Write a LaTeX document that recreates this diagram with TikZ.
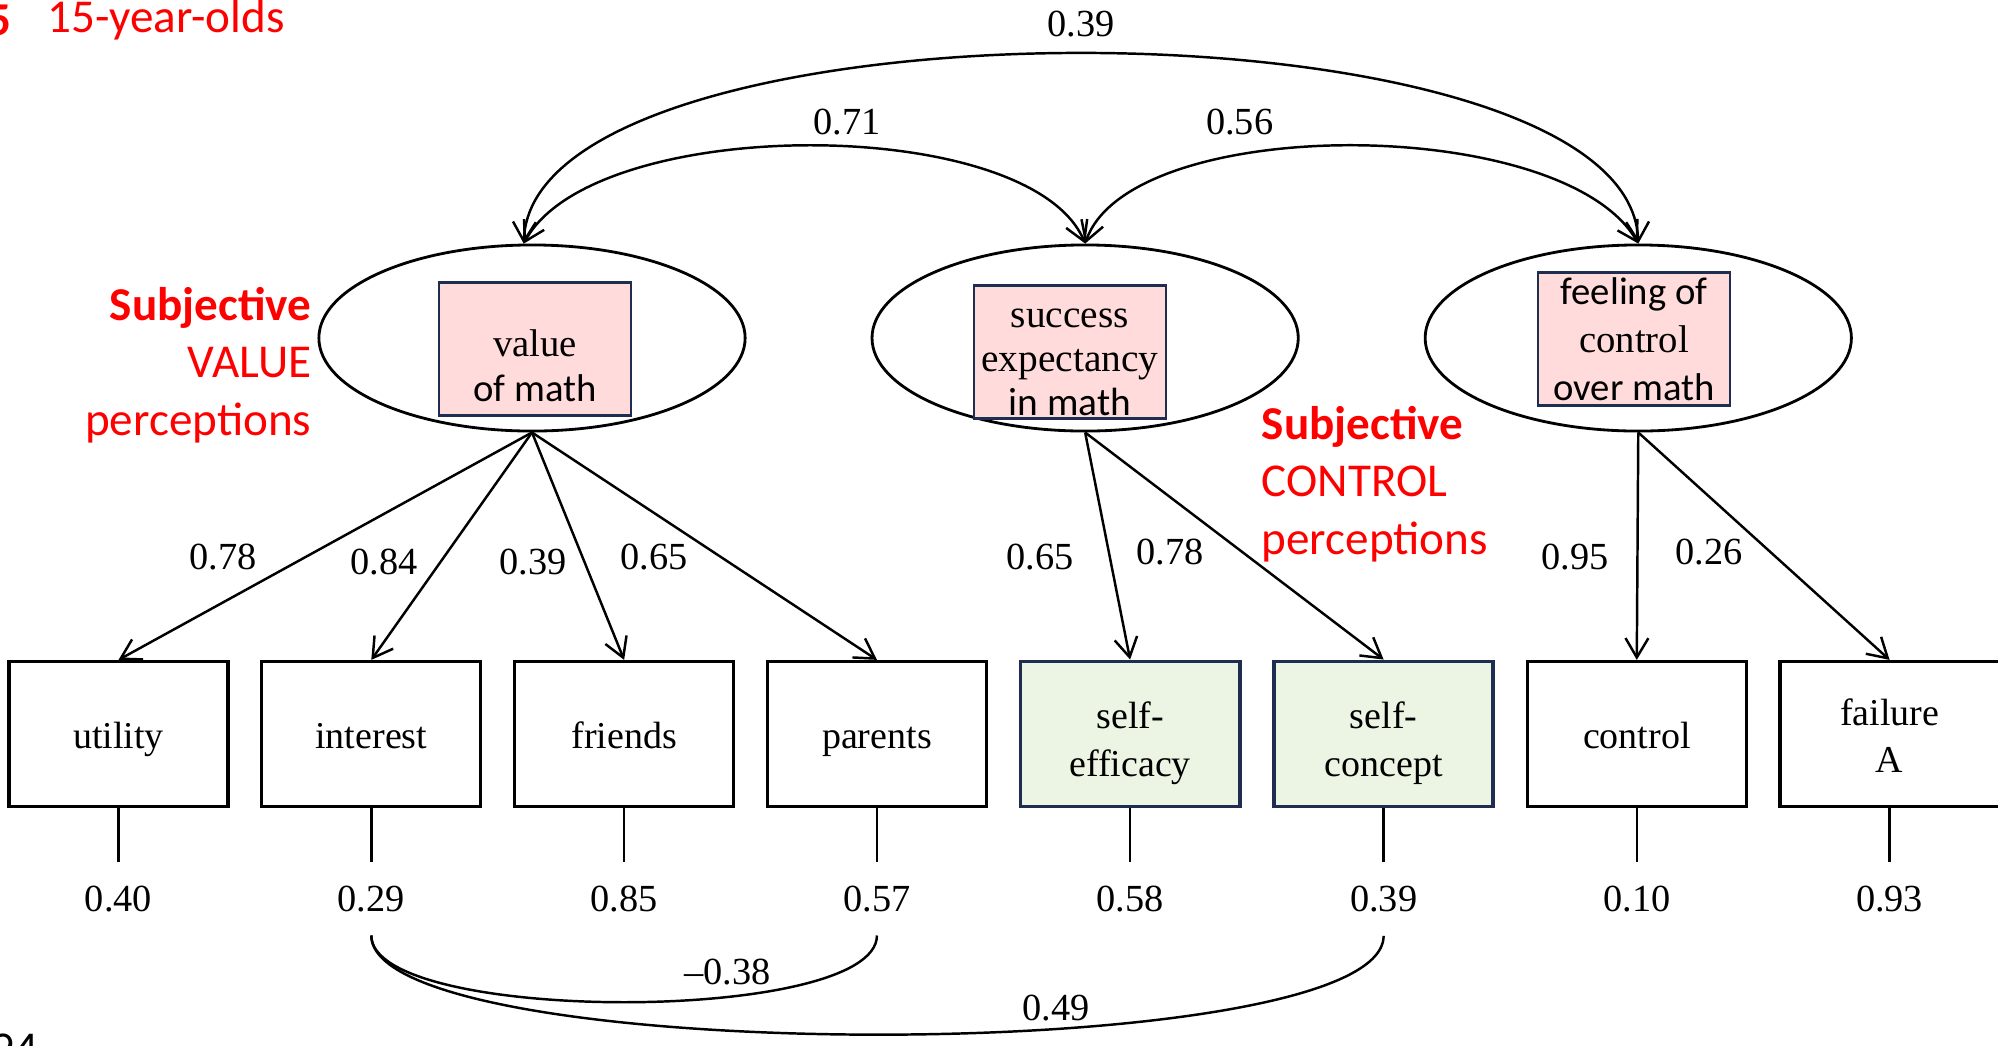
\documentclass[tikz,border=0pt]{standalone}
\usepackage{fontspec}
\setmainfont{Liberation Serif}
\newfontfamily\calibri{Carlito}
\usepackage{tikz}
\usetikzlibrary{arrows.meta}
\usetikzlibrary{shapes.geometric}
\usetikzlibrary{positioning}
\definecolor{valpink}{RGB}{255,219,219}
\definecolor{selfgreen}{RGB}{236,245,228}
\definecolor{framenavy}{RGB}{31,45,80}
\newcommand{\boxstrut}{\rule[-3pt]{0pt}{14.5pt}}
\tikzset{latent/.style={ellipse,draw=black,line width=0.8pt,fill=white,minimum width=4.26cm,minimum height=1.86cm}}
\tikzset{construct/.style={rectangle,draw=framenavy,line width=0.7pt,fill=valpink,minimum width=1.92cm,minimum height=1.33cm,inner sep=0pt,align=center}}
\tikzset{indicator/.style={rectangle,draw=black,line width=0.9pt,fill=white,minimum width=2.19cm,minimum height=1.45cm,align=center,font=\fontsize{10.8}{13.6}\selectfont}}
\tikzset{selfbox/.style={indicator,draw=framenavy,line width=1.1pt,fill=selfgreen}}
\tikzset{num/.style={font=\fontsize{10.9}{12}\selectfont,inner sep=2pt}}
\tikzset{redlabel/.style={text=red,inner sep=0pt,font=\calibri\fontsize{13.4}{16.4}\selectfont}}
\tikzset{loading/.style={->,line width=0.7pt}}
\tikzset{cov/.style={<->,line width=0.7pt}}

\begin{document}
\begin{tikzpicture}[x=0.01cm,y=-0.01cm,node distance=0.305cm,>={Straight Barb[length=5.5pt,width=6.5pt]}]
\useasboundingbox (0,0) rectangle (1998,1045);
% latent factors
\node[latent] (val) at (532,338) {};
\node[latent, right=1.24cm of val] (succ) {};
\node[latent, right=1.24cm of succ] (ctrl) {};
\node[construct, font=\fontsize{11}{12.8}\selectfont] (valbox) at (535,349) {\rule{0pt}{0.6cm}value\\{\calibri of math}};
\node[construct, font=\fontsize{11.2}{12.5}\selectfont] (succbox) at (1070,352) {\rule{0pt}{0.4cm}success\\expectancy\\{\calibri in math}};
\node[construct, font=\fontsize{11}{13.6}\selectfont] (ctrlbox) at (1634,339) {{\calibri feeling of}\\control\\{\calibri over math}};

% observed indicators
\node[indicator] (util) at (118.5,734) {\boxstrut utility};
\node[indicator, right=of util] (int) {\boxstrut interest};
\node[indicator, right=of int] (fri) {\boxstrut friends};
\node[indicator, right=of fri] (par) {\boxstrut parents};
\node[selfbox, right=of par] (eff) {\rule{0pt}{13pt}self-\\efficacy};
\node[selfbox, right=of eff] (conc) {\rule{0pt}{13pt}self-\\concept};
\node[indicator, right=of conc] (cont) {\boxstrut control};
\node[indicator, right=of cont] (fail) {\rule{0pt}{8.5pt}failure\\A};

% loadings
\draw[loading] (val.south) -- (util.north);
\draw[loading] (val.south) -- (int.north);
\draw[loading] (val.south) -- (fri.north);
\draw[loading] (val.south) -- (par.north);
\draw[loading] (succ.south) -- (eff.north);
\draw[loading] (succ.south) -- (conc.north);
\draw[loading] (ctrl.south) -- (cont.north);
\draw[loading] (ctrl.south) -- (fail.north);
\node[num] (lutil) at (223,557) {0.78};
\node[num] (lint) at (384,562) {0.84};
\node[num] (lfri) at (533,562) {0.39};
\node[num] (lpar) at (654,557) {0.65};
\node[num] (leff) at (1040,557) {0.65};
\node[num] (lconc) at (1170,552) {0.78};
\node[num] (lcont) at (1575,557) {0.95};
\node[num] (lfail) at (1709,552) {0.26};

% residuals
\foreach \b/\e in {util/0.40,int/0.29,fri/0.85,par/0.57,eff/0.58,conc/0.39,cont/0.10,fail/0.93}
{
  \draw[line width=0.7pt] (\b.south) -- ++(0,54) coordinate (\b-tip);
  \node[num, below=1.6mm of \b-tip] (\b-err) {\e};
}

% factor correlations
\draw[cov] (val.95) .. controls +(8,-253) and +(-8,-253) .. (ctrl.north) node[num, pos=.5, above=2.5pt] (c39) {0.39};
\draw[cov] (val.95) .. controls +(70,-130) and +(-55,-130) .. (succ.north) node[num, pos=.55, above=1pt] (c71) {0.71};
\draw[cov] (succ.north) .. controls +(45,-130) and +(-75,-130) .. (ctrl.north) node[num, pos=.345, above=3.5pt] (c56) {0.56};

% residual correlations
\draw[line width=0.7pt] ([yshift=-4.5pt]int-err.south) .. controls +(0,89) and +(0,89) .. ([yshift=-4.5pt]par-err.south) node[num, pos=.64, above=1pt] (r38) {--0.38};
\draw[line width=0.7pt] ([yshift=-4.5pt]int-err.south) .. controls +(0,132) and +(0,132) .. ([yshift=-4.5pt]conc-err.south) node[num, pos=.62, above] (r49) {0.49};

% notes
\node[redlabel, align=right, anchor=east] (valnote) at (312,365) {\textbf{Subjective}\\VALUE\\perceptions};
\node[redlabel, align=left, anchor=west] (ctrlnote) at (1261,484) {\textbf{Subjective}\\CONTROL\\perceptions};
\node[redlabel, anchor=east] (grade) at (12,20) {\textbf{5}};
\node[redlabel, anchor=west] (age) at (47,20) {15-year-olds};
\node[anchor=north west, inner sep=0pt, font=\calibri\fontsize{13.4}{16}\selectfont] (page) at (-10,1033) {94};
\end{tikzpicture}
\end{document}
